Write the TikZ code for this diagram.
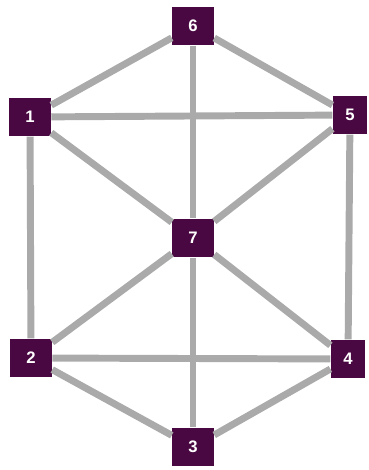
\documentclass[tikz,border=0pt]{standalone}
\usepackage{fontspec}
\setmainfont{Liberation Sans}
\usepackage{tikz}
\definecolor{boxpurple}{RGB}{74,8,66}
\definecolor{edgegray}{RGB}{170,170,170}

\begin{document}
\begin{tikzpicture}[x=0.75pt, y=-0.75pt,
  vertex/.style={fill=boxpurple, text=white, inner sep=0pt, minimum width=31.5pt,
    minimum height=29pt, font=\fontsize{12.5}{12.5}\selectfont\bfseries},
  edge/.style={edgegray, line width=5.2pt}]
\useasboundingbox (0,0) rectangle (368,470);
% Vertices
\foreach \n/\x/\y in {6/193/26, 1/30/117, 7/193/238, 2/31/358, 3/193/447} {
  \node[vertex] (v\n) at (\x,\y) {\n};
}
\foreach \n/\x/\y in {5/350/115, 4/348/359} {
  \node[vertex, minimum width=26pt] (v\n) at (\x,\y) {\n};
}
% Edges
\foreach \a/\b in {1/6, 6/5, 1/5, 1/7, 6/7, 5/7, 1/2, 5/4, 7/2, 7/4, 7/3, 2/4, 2/3, 4/3} {
  \draw[edge] (v\a) -- (v\b);
}
\end{tikzpicture}
\end{document}
